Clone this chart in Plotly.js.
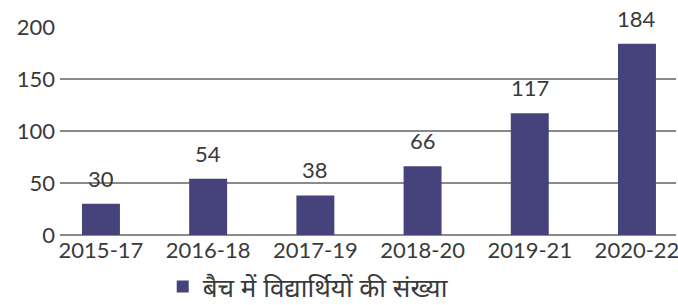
<!DOCTYPE html>
<html>
<head>
<meta charset="utf-8">
<script src="https://cdn.plot.ly/plotly-3.0.1.min.js"></script>
<style>html,body{margin:0;padding:0;background:#fff;}#chart{width:678px;height:305px;}</style>
</head>
<body>
<div id="chart"></div>
<script>
const categories = ["2015-17", "2016-18", "2017-19", "2018-20", "2019-21", "2020-22"];
const students = [30, 54, 38, 66, 117, 184];
const seriesName = "बैच में विद्यार्थियों की संख्या";
const yTicks = [0, 50, 100, 150, 200];

const barColor = "#46427b";
const textColor = "#3a3a3a";
const fontFam = "Lato, 'Open Sans', sans-serif";

const trace = {
  type: "bar",
  x: categories,
  y: students,
  name: seriesName,
  marker: {color: barColor},
  showlegend: true,
  hoverinfo: "none"
};

const annotations = categories.map((c, i) => ({
  x: c, y: students[i], xref: "x", yref: "y",
  text: String(students[i]),
  showarrow: false, yanchor: "bottom", yshift: 10,
  font: {family: fontFam, size: 22, color: textColor}
}));

const layout = {
  width: 678, height: 305,
  margin: {l: 60, r: 2, t: 27, b: 70, pad: 0},
  paper_bgcolor: "#fff", plot_bgcolor: "#fff",
  bargap: 0.646,
  font: {family: fontFam, size: 22, color: textColor},
  xaxis: {
    type: "category",
    range: [-0.382, 5.364],
    showgrid: false, showline: false, zeroline: false,
    ticks: "", tickfont: {family: fontFam, size: 22, color: textColor},
    fixedrange: true
  },
  yaxis: {
    range: [0, 200],
    tickvals: yTicks,
    ticktext: yTicks.map(String),
    showgrid: true, gridcolor: "#8a8a8a", gridwidth: 1.6,
    zeroline: true, zerolinecolor: "#8a8a8a", zerolinewidth: 1.6,
    showline: false, ticks: "", ticklabelstandoff: 4,
    tickfont: {family: fontFam, size: 22, color: textColor},
    fixedrange: true
  },
  legend: {
    orientation: "h",
    xref: "container", yref: "container",
    x: 0.24, xanchor: "left",
    y: 0.06, yanchor: "middle",
    font: {family: "'Noto Sans', Lato, sans-serif", size: 26, color: textColor},
    itemwidth: 30
  },
  annotations: annotations
};

Plotly.newPlot("chart", [trace], layout, {displayModeBar: false, staticPlot: true});
</script>
</body>
</html>
